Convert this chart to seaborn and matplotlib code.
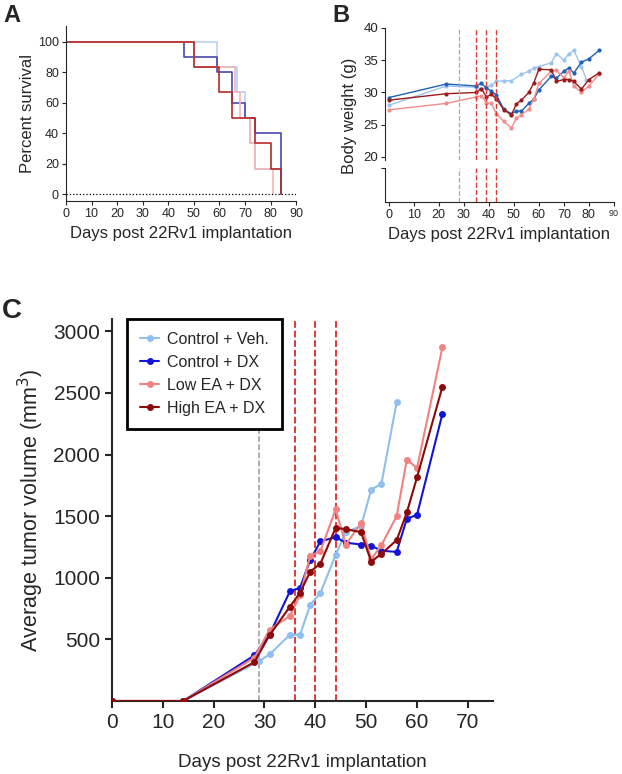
import numpy as np
import pandas as pd
import matplotlib
matplotlib.use("Agg")
import matplotlib.pyplot as plt
import seaborn as sns

# -------------------------------
# Data
# -------------------------------

groups = ["Control + Veh.", "Control + DX", "Low EA + DX", "High EA + DX"]

# Panel A - survival (step curves)
surv_days = {
    "Control + Veh.": [0, 59, 67, 70, 72, 74, 84],
    "Control + DX": [0, 46, 59, 65, 70, 74, 84],
    "Low EA + DX": [0, 50, 66, 68, 72, 74, 81],
    "High EA + DX": [0, 50, 60, 65, 74, 80, 84],
}
surv_pct = {
    "Control + Veh.": [100, 83.3, 66.7, 50, 33.3, 16.7, 0],
    "Control + DX": [100, 90, 80, 60, 50, 40, 0],
    "Low EA + DX": [100, 83.3, 66.7, 50, 33.3, 16.7, 0],
    "High EA + DX": [100, 83.3, 66.7, 50, 33.3, 16.7, 0],
}

# Panel B - body weight
bw_days = {
    "Control + Veh.": [0, 23, 35, 37, 39, 41, 43, 46, 49, 53, 56, 58, 60, 65, 67, 70, 72, 74, 77, 79],
    "Control + DX": [0, 23, 35, 37, 39, 41, 43, 46, 49, 51, 53, 56, 58, 60, 65, 67, 70, 72, 74, 77, 80, 84],
    "Low EA + DX": [0, 23, 35, 37, 39, 41, 43, 46, 49, 51, 53, 56, 58, 60, 65, 67, 70, 72, 74, 77, 80, 84],
    "High EA + DX": [0, 23, 35, 37, 39, 41, 43, 46, 49, 51, 53, 56, 58, 60, 65, 67, 70, 72, 74, 77, 80, 84],
}
bw_grams = {
    "Control + Veh.": [28.0, 31.0, 30.8, 30.5, 30.8, 31.1, 31.7, 31.8, 31.8, 32.8, 33.3, 33.8, 34.0, 34.6, 36.0, 35.0, 36.0, 36.5, 34.0, 32.0],
    "Control + DX": [29.2, 31.3, 31.0, 31.4, 30.7, 30.2, 29.6, 27.4, 26.7, 27.1, 27.1, 28.3, 29.0, 30.4, 32.5, 32.2, 33.3, 33.8, 33.0, 34.7, 35.2, 36.5],
    "Low EA + DX": [27.3, 28.3, 29.3, 29.5, 28.4, 28.3, 26.7, 25.5, 24.5, 26.0, 26.5, 27.4, 29.0, 31.4, 33.3, 33.4, 32.3, 33.3, 31.0, 30.0, 31.0, 32.8],
    "High EA + DX": [28.8, 29.8, 30.0, 30.6, 29.3, 29.7, 29.0, 27.3, 26.5, 28.2, 28.8, 30.0, 31.5, 33.6, 33.5, 31.7, 32.0, 32.0, 31.7, 30.5, 32.0, 33.0],
}

# Panel C - tumor volume
tv_days = {
    "Control + Veh.": [0, 14, 29, 31, 35, 37, 39, 41, 44, 46, 49, 51, 53, 56],
    "Control + DX": [0, 14, 28, 31, 35, 37, 39, 41, 44, 46, 49, 51, 53, 56, 58, 60, 65],
    "Low EA + DX": [0, 14, 28, 31, 35, 37, 39, 41, 44, 46, 49, 51, 53, 56, 58, 60, 65],
    "High EA + DX": [0, 14, 28, 31, 35, 37, 39, 41, 44, 46, 49, 51, 53, 56, 58, 60, 65],
}
tv_mm3 = {
    "Control + Veh.": [0, 0, 325, 378, 538, 538, 781, 876, 1187, 1370, 1420, 1716, 1762, 2424],
    "Control + DX": [0, 0, 370, 540, 890, 920, 1145, 1295, 1330, 1285, 1270, 1260, 1220, 1210, 1480, 1510, 2330],
    "Low EA + DX": [0, 0, 350, 580, 690, 860, 1180, 1215, 1555, 1270, 1445, 1150, 1265, 1500, 1960, 1890, 2870],
    "High EA + DX": [0, 0, 315, 535, 765, 880, 1050, 1115, 1405, 1395, 1370, 1130, 1195, 1305, 1530, 1815, 2550],
}

# treatment days
gray_day_b, red_days_b = 28, [35, 39, 43]
gray_day_c, red_days_c = 29, [36, 40, 44]

pal_a = dict(zip(groups, ["#b9d0f2", "#4848b0", "#f4b4b4", "#b52a2a"]))
pal_b = dict(zip(groups, ["#9dc3ee", "#1f62b8", "#f08c8c", "#9b1b1b"]))
pal_c = dict(zip(groups, ["#8fbfef", "#1414d4", "#f08282", "#8b0a0a"]))


def to_frame(days, vals, col):
    rows = []
    for g in groups:
        for d, v in zip(days[g], vals[g]):
            rows.append({"day": d, col: v, "group": g})
    return pd.DataFrame(rows)


df_a = to_frame(surv_days, surv_pct, "pct")
df_b = to_frame(bw_days, bw_grams, "g")
df_c = to_frame(tv_days, tv_mm3, "vol")

# -------------------------------
# Figure
# -------------------------------

sns.set_style("ticks")
plt.rcParams["font.family"] = ["Liberation Sans", "DejaVu Sans"]

fig = plt.figure(figsize=(6.22, 7.74), dpi=100)

# ---- Panel A ----
ax_a = fig.add_axes([0.106, 0.740, 0.370, 0.227])
sns.lineplot(data=df_a, x="day", y="pct", hue="group", palette=pal_a,
             drawstyle="steps-post", linewidth=1.2, estimator=None,
             legend=False, ax=ax_a)
ax_a.axhline(0, color="black", linestyle=":", linewidth=0.9)
ax_a.set_xlim(0, 90)
ax_a.set_ylim(-4.6, 110.5)
ax_a.set_xticks(np.arange(0, 91, 10))
ax_a.set_yticks(np.arange(0, 101, 20))
ax_a.tick_params(labelsize=9, width=0.8, length=3, pad=2)
ax_a.set_xlabel("Days post 22Rv1 implantation", fontsize=12, labelpad=4)
ax_a.set_ylabel("Percent survival", fontsize=12, labelpad=2)
for s in ["left", "bottom"]:
    ax_a.spines[s].set_linewidth(0.8)
sns.despine(ax=ax_a)

# ---- Panel B (broken y axis) ----
ax_b = fig.add_axes([0.619, 0.793, 0.368, 0.171])
ax_b2 = fig.add_axes([0.619, 0.739, 0.368, 0.044])
sns.lineplot(data=df_b, x="day", y="g", hue="group", palette=pal_b,
             marker="o", markersize=3, markeredgewidth=0, linewidth=1.0,
             estimator=None, legend=False, ax=ax_b)
for a in [ax_b, ax_b2]:
    a.axvline(gray_day_b, color="#aaaaaa", linestyle="--", linewidth=0.9)
    for d in red_days_b:
        a.axvline(d, color="#e23a3a", linestyle="--", linewidth=1.0)
    a.set_xlim(-1.5, 90)
ax_b.set_ylim(19.5, 40)
ax_b.set_yticks(np.arange(20, 41, 5))
ax_b.set_xticks([])
ax_b.set_xlabel("")
ax_b.set_ylabel("")
ax_b.tick_params(labelsize=9.5, width=0.8, length=3, pad=2)
ax_b2.set_ylim(0, 10)
ax_b2.set_yticks([10])
ax_b2.set_yticklabels([])
ax_b2.set_xticks(np.arange(0, 91, 10))
ax_b2.tick_params(labelsize=9, width=0.8, length=3, pad=2)
ax_b2.get_xticklabels()[-1].set_fontsize(6.5)
ax_b2.set_xlabel("Days post 22Rv1 implantation", fontsize=12, labelpad=4)
for a in [ax_b, ax_b2]:
    for s in ["left", "bottom"]:
        a.spines[s].set_linewidth(0.8)
    sns.despine(ax=a)
ax_b.spines["bottom"].set_visible(False)
fig.text(0.562, 0.851, "Body weight (g)", rotation=90, fontsize=12,
         ha="center", va="center")

# ---- Panel C ----
ax_c = fig.add_axes([0.180, 0.0943, 0.613, 0.4935])
ax_c.axvline(gray_day_c, color="#999999", linestyle="--", linewidth=1.1, zorder=1)
for d in red_days_c:
    ax_c.axvline(d, color="#e02828", linestyle="--", linewidth=1.3, zorder=1)
sns.lineplot(data=df_c, x="day", y="vol", hue="group", palette=pal_c,
             marker="o", markersize=5, markeredgewidth=0, linewidth=1.5,
             estimator=None, ax=ax_c, zorder=3)
ax_c.set_xlim(0, 75)
ax_c.set_ylim(0, 3100)
ax_c.set_xticks(np.arange(0, 71, 10))
ax_c.set_yticks(np.arange(500, 3001, 500))
ax_c.tick_params(labelsize=15, width=1.5, length=5)
ax_c.set_xlabel("Days post 22Rv1 implantation", fontsize=13.5, labelpad=16)
ax_c.set_ylabel("Average tumor volume (mm$^3$)", fontsize=15.5, labelpad=5)
for s in ["left", "bottom"]:
    ax_c.spines[s].set_linewidth(1.5)
sns.despine(ax=ax_c)
leg = ax_c.legend(title=None, loc="upper left", bbox_to_anchor=(0.04, 1.0),
                  borderaxespad=0, fontsize=11.5, frameon=True, fancybox=False,
                  framealpha=1, edgecolor="black", handlelength=1.2,
                  handletextpad=0.5, borderpad=0.8, labelspacing=0.5)
leg.get_frame().set_linewidth(2)
leg.set_zorder(10)

# panel letters
fig.text(0.005, 0.995, "A", fontsize=17, fontweight="bold", va="top")
fig.text(0.535, 0.995, "B", fontsize=17, fontweight="bold", va="top")
fig.text(0.003, 0.615, "C", fontsize=20, fontweight="bold", va="top")

plt.savefig("out.png", dpi=100)
